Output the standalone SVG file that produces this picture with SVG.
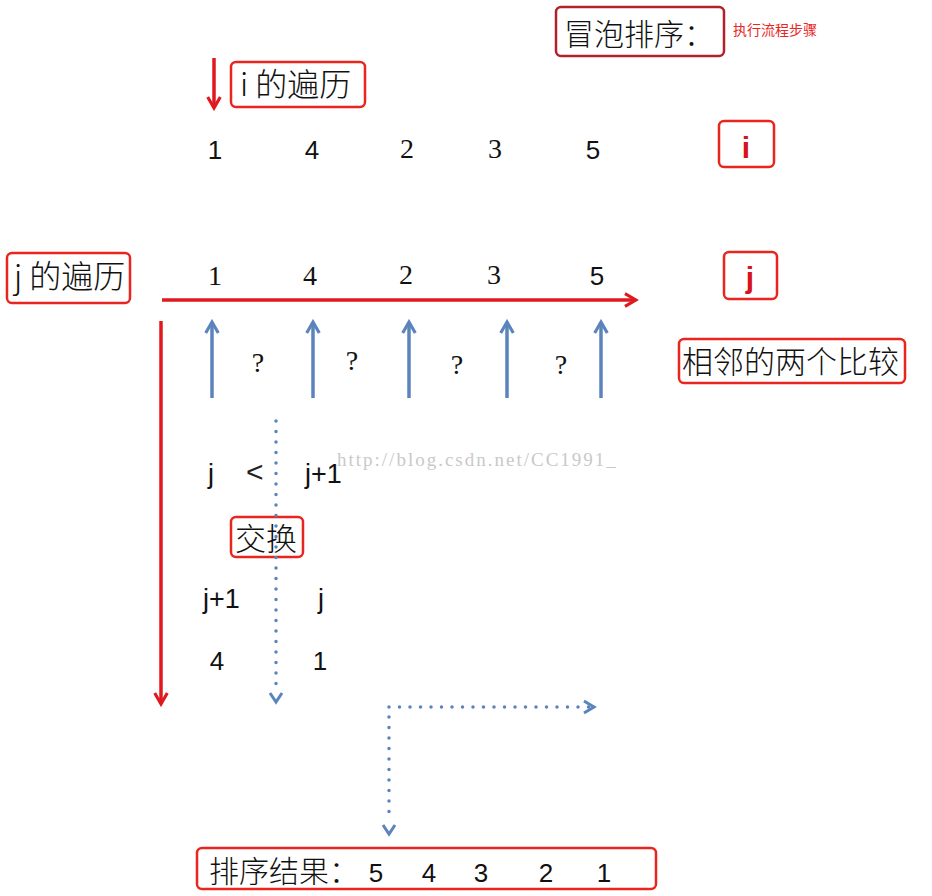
<svg xmlns="http://www.w3.org/2000/svg" width="932" height="896" viewBox="0 0 932 896">
<style>
.box{fill:none;stroke:#e8261f;stroke-width:2.5}
.cn{font-family:"Noto Sans CJK SC","Liberation Sans",sans-serif;fill:#111;font-weight:300}
.sans{font-family:"Liberation Sans","DejaVu Sans",sans-serif;fill:#111}
.serif{font-family:"Liberation Serif","DejaVu Serif",serif;fill:#111}
.red{stroke:#e0191f;stroke-width:3.5;fill:none}
.blue{stroke:#5b84bd;stroke-width:3.5;fill:none}
.dot{stroke:#5b84bd;stroke-width:3.5;fill:none;stroke-linecap:round;stroke-dasharray:0 10.5}
</style>
<defs>
<marker id="rh" viewBox="0 0 10 10" refX="8" refY="5" markerWidth="4.5" markerHeight="4.5" orient="auto" markerUnits="strokeWidth">
<path d="M1,1 L8,5 L1,9" fill="none" stroke="#e0191f" stroke-width="2" stroke-linejoin="miter"/>
</marker>
<marker id="bh" viewBox="0 0 10 10" refX="8" refY="5" markerWidth="4.5" markerHeight="4.5" orient="auto" markerUnits="strokeWidth">
<path d="M1,1 L8,5 L1,9" fill="none" stroke="#5b84bd" stroke-width="2"/>
</marker>
</defs>

<g id="title">
<rect x="556" y="7" width="168" height="49" rx="5" fill="none" stroke="#b3202a" stroke-width="2.5"/>
<text x="564" y="45" class="cn" font-size="30">冒泡排序：</text>
<text x="733" y="35" font-family="Noto Sans CJK SC,sans-serif" font-size="14" fill="#e8261f">执行流程步骤</text>
</g>

<g id="i-label">
<rect x="231" y="62" width="134" height="45" rx="5" class="box"/>
<text x="240" y="96" class="cn" font-size="32">i 的遍历</text>
</g>

<g id="i-row">
<text x="215" y="159" class="sans" font-size="26" text-anchor="middle">1</text>
<text x="312" y="159" class="sans" font-size="26" text-anchor="middle">4</text>
<text x="407" y="158" class="serif" font-size="28" text-anchor="middle">2</text>
<text x="495" y="158" class="serif" font-size="28" text-anchor="middle">3</text>
<text x="593" y="159" class="sans" font-size="26" text-anchor="middle">5</text>
</g>

<g id="i-box">
<rect x="719" y="121" width="55" height="46" rx="5" class="box"/>
<text x="746" y="158" font-family="Liberation Sans,sans-serif" font-weight="bold" font-size="30" fill="#d6141c" text-anchor="middle">i</text>
</g>

<g id="j-label">
<rect x="7" y="253" width="123" height="50" rx="5" class="box"/>
<text x="14" y="288" class="cn" font-size="32">j 的遍历</text>
</g>

<g id="j-row">
<text x="215" y="285" class="serif" font-size="28" text-anchor="middle">1</text>
<text x="310" y="285" class="serif" font-size="28" text-anchor="middle">4</text>
<text x="406" y="284" class="serif" font-size="28" text-anchor="middle">2</text>
<text x="494" y="284" class="serif" font-size="28" text-anchor="middle">3</text>
<text x="597" y="285" class="sans" font-size="26" text-anchor="middle">5</text>
</g>

<g id="j-box">
<rect x="724" y="252" width="53" height="47" rx="5" class="box"/>
<text x="750" y="288" font-family="Liberation Sans,sans-serif" font-weight="bold" font-size="30" fill="#d6141c" text-anchor="middle">j</text>
</g>

<g id="compare-label">
<rect x="679" y="339" width="226" height="44" rx="5" class="box"/>
<text x="682" y="373" class="cn" font-size="31">相邻的两个比较</text>
</g>

<g id="questions">
<text x="258" y="372" class="serif" font-size="28" text-anchor="middle">?</text>
<text x="352" y="370" class="serif" font-size="28" text-anchor="middle">?</text>
<text x="457" y="374" class="serif" font-size="28" text-anchor="middle">?</text>
<text x="561" y="374" class="serif" font-size="28" text-anchor="middle">?</text>
</g>

<g id="compare-text">
<text x="208" y="483" class="sans" font-size="27">j</text>
<text x="246" y="482" font-family="Liberation Sans,sans-serif" font-size="30" fill="#222" font-weight="300">&lt;</text>
<text x="305" y="483" class="sans" font-size="27">j+1</text>
<text x="337" y="466" font-family="Liberation Serif,serif" font-size="19" letter-spacing="2" fill="#c9c9c9">http://blog.csdn.net/CC1991_</text>
</g>

<g id="swap">
<rect x="231" y="517" width="72" height="40" rx="5" class="box"/>
<text x="235" y="550" class="cn" font-size="31">交换</text>
</g>

<g id="swap-result">
<text x="203" y="608" class="sans" font-size="27">j+1</text>
<text x="318" y="608" class="sans" font-size="27">j</text>
<text x="217" y="670" class="sans" font-size="26" text-anchor="middle">4</text>
<text x="320" y="670" class="sans" font-size="26" text-anchor="middle">1</text>
</g>

<g id="result">
<rect x="197" y="848" width="459" height="41" rx="5" class="box"/>
<text x="209" y="882" class="cn" font-size="30">排序结果：</text>
<text x="376" y="882" class="sans" font-size="26" text-anchor="middle">5</text>
<text x="429" y="882" class="sans" font-size="26" text-anchor="middle">4</text>
<text x="481" y="882" class="sans" font-size="26" text-anchor="middle">3</text>
<text x="546" y="882" class="sans" font-size="26" text-anchor="middle">2</text>
<text x="604" y="882" class="sans" font-size="26" text-anchor="middle">1</text>
</g>

<g id="connectors">
<line x1="214" y1="58" x2="214" y2="108" class="red" marker-end="url(#rh)"/>
<line x1="162" y1="300" x2="636" y2="300" class="red" marker-end="url(#rh)"/>
<line x1="161" y1="321" x2="161" y2="704" class="red" marker-end="url(#rh)"/>
<line x1="212" y1="398" x2="212" y2="322" class="blue" marker-end="url(#bh)"/>
<line x1="313" y1="398" x2="313" y2="322" class="blue" marker-end="url(#bh)"/>
<line x1="409" y1="398" x2="409" y2="322" class="blue" marker-end="url(#bh)"/>
<line x1="507" y1="398" x2="507" y2="322" class="blue" marker-end="url(#bh)"/>
<line x1="601" y1="398" x2="601" y2="322" class="blue" marker-end="url(#bh)"/>
<line x1="276" y1="421" x2="276" y2="690" class="dot"/>
<path d="M270,693 L276,702 L282,693" fill="none" stroke="#5b84bd" stroke-width="3"/>
<line x1="389" y1="707" x2="589" y2="707" class="dot"/>
<path d="M584,701 L594,707 L584,713" fill="none" stroke="#5b84bd" stroke-width="3"/>
<line x1="389" y1="717" x2="389" y2="822" class="dot"/>
<path d="M383,825 L389,834 L395,825" fill="none" stroke="#5b84bd" stroke-width="3"/>
</g>
</svg>
